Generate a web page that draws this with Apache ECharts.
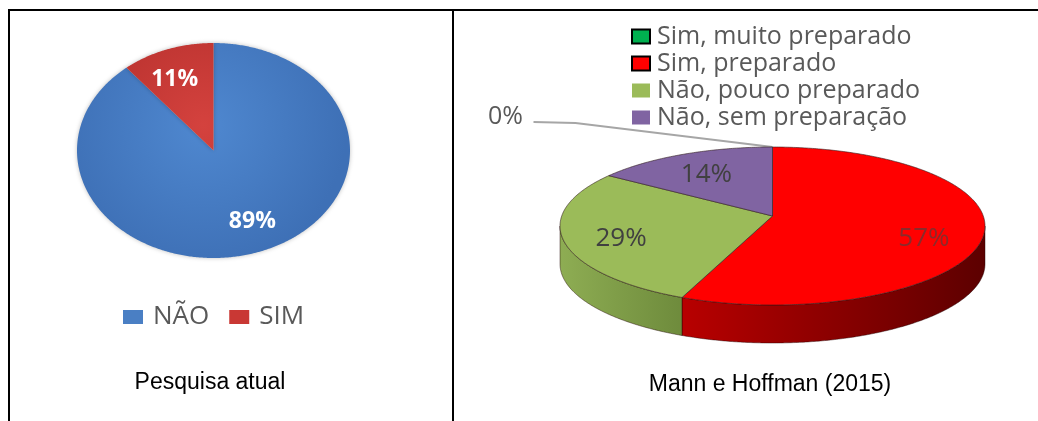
<!DOCTYPE html>
<html>
<head>
<meta charset="utf-8">
<script src="https://cdn.jsdelivr.net/npm/echarts@6/dist/echarts.min.js"></script>
<style>
  html, body { margin: 0; padding: 0; background: #fff; }
  #chart { width: 1038px; height: 421px; }
</style>
</head>
<body>
<div id="chart"></div>
<script>
// left panel: pesquisa atual
const atualNames = ['NÃO', 'SIM'];
const atualValues = [89, 11];

// right panel: Mann e Hoffman (2015)
const mannNames = ['Sim, muito preparado', 'Sim, preparado', 'Não, pouco preparado', 'Não, sem preparação'];
const mannValues = [0, 57, 29, 14];

const captions = ['Pesquisa atual', 'Mann e Hoffman (2015)'];

// styles
const atualColors = ['#4A7FC4', '#C93834'];
const atualInner = ['#4F88D0', '#D4423E'];
const atualOuter = ['#3E70B6', '#B52F2C'];
const mannColors = ['#00B050', '#FF0000', '#9BBB59', '#8064A2'];
const mannSideStops = [
  ['#007A38', '#005A28'],
  ['#B80000', '#5C0000'],
  ['#8EAD53', '#6E8B3C'],
  ['#6A5088', '#4E3A66']
];
const mannLabelColors = ['#595959', '#8A2B2B', '#404040', '#404040'];

const TAU = Math.PI * 2;
const leftGeo = { cx: 213.5, cy: 150.5, rx: 136.5, ry: 107.5, fx: 0.84, fy: 0.7 };
const rightGeo = { cx: 772.5, cy: 226, rx: 212.5, ry: 79, apexDy: -10, depth: 38, fx: 0.73, fy: 0.72 };

function pt(g, t, dy) {
  return [g.cx + g.rx * Math.sin(t), g.cy - g.ry * Math.cos(t) + (dy || 0)];
}

function arc(g, a0, a1, dy) {
  const n = Math.max(2, Math.ceil((a1 - a0) / 0.01));
  const out = [];
  for (let k = 0; k <= n; k++) out.push(pt(g, a0 + (a1 - a0) * k / n, dy));
  return out;
}

function angles(values, i) {
  const total = values.reduce((a, b) => a + b, 0);
  let start = 0;
  for (let k = 0; k < i; k++) start += values[k];
  return [start / total * TAU, (start + values[i]) / total * TAU];
}

function pct(values, i) {
  const total = values.reduce((a, b) => a + b, 0);
  return Math.round(values[i] / total * 100) + '%';
}

function label(text, x, y, fill, size, weight) {
  return {
    type: 'text', z2: 10,
    style: {
      text: text, x: x, y: y, fill: fill,
      fontSize: size, fontFamily: 'Open Sans', fontWeight: weight || 'normal',
      align: 'center', verticalAlign: 'middle',
      textAlign: 'center', textVerticalAlign: 'middle'
    }
  };
}

function atualRender(i) {
  return function () {
    const g = leftGeo;
    const [a0, a1] = angles(atualValues, i);
    const pts = [[g.cx, g.cy]].concat(arc(g, a0, a1, 0));
    const mid = (a0 + a1) / 2;
    return {
      type: 'group',
      children: [
        {
          type: 'polygon', z2: 5,
          shape: { points: pts },
          style: {
            fill: new echarts.graphic.RadialGradient(g.cx - 10, g.cy - 25, g.rx * 1.05, [
              { offset: 0, color: atualInner[i] },
              { offset: 1, color: atualOuter[i] }
            ], true),
            shadowBlur: 4, shadowColor: 'rgba(0,0,0,0.25)'
          }
        },
        label(pct(atualValues, i),
          g.cx + g.rx * g.fx * Math.sin(mid),
          g.cy - g.ry * g.fy * Math.cos(mid),
          '#ffffff', 23, 'bold')
      ]
    };
  };
}

function mannRender(i) {
  return function () {
    const g = rightGeo;
    const [a0, a1] = angles(mannValues, i);
    const mid = (a0 + a1) / 2;
    const children = [];
    if (a1 > a0) {
      // front wall: only the lower half of the ellipse shows
      const s0 = Math.max(a0, Math.PI / 2);
      const s1 = Math.min(a1, Math.PI * 1.5);
      if (s1 > s0) {
        const top = arc(g, s0, s1, 0);
        const bot = arc(g, s0, s1, g.depth).reverse();
        children.push({
          type: 'polygon', z2: 1,
          shape: { points: top.concat(bot) },
          style: {
            fill: new echarts.graphic.LinearGradient(0, 0, 1, 0, [
              { offset: 0, color: mannSideStops[i][0] },
              { offset: 1, color: mannSideStops[i][1] }
            ]),
            stroke: 'rgba(30,0,0,0.55)', lineWidth: 0.8
          }
        });
      }
      children.push({
        type: 'polygon', z2: 5,
        shape: { points: [[g.cx, g.cy + g.apexDy]].concat(arc(g, a0, a1, 0)) },
        style: { fill: mannColors[i], stroke: 'rgba(50,30,30,0.75)', lineWidth: 0.8 }
      });
      children.push(label(pct(mannValues, i),
        g.cx + g.rx * g.fx * Math.sin(mid),
        g.cy - g.ry * g.fy * Math.cos(mid),
        mannLabelColors[i], 26));
    } else {
      // empty slice: label outside with a leader line
      const anchor = pt(g, mid, g.apexDy + 10);
      const lx = anchor[0] - 267, ly = anchor[1] - 30;
      children.push({
        type: 'polyline', z2: 3,
        shape: { points: [[lx + 28, ly + 5], [lx + 70, ly + 6], anchor] },
        style: { stroke: '#A6A6A6', lineWidth: 1.8, fill: null }
      });
      children.push(label(pct(mannValues, i), lx, ly, mannLabelColors[i], 25));
    }
    return { type: 'group', children: children };
  };
}

const series = [];
atualNames.forEach((n, i) => series.push({
  type: 'custom', name: n, coordinateSystem: 'none',
  itemStyle: { color: atualColors[i] },
  renderItem: atualRender(i), data: [[atualValues[i]]], silent: true
}));
mannNames.forEach((n, i) => series.push({
  type: 'custom', name: n, coordinateSystem: 'none',
  itemStyle: { color: mannColors[i] },
  renderItem: mannRender(i), data: [[mannValues[i]]], silent: true
}));

const chart = echarts.init(document.getElementById('chart'), null, { renderer: 'canvas' });
chart.setOption({
  animation: false,
  backgroundColor: '#ffffff',
  legend: [
    {
      data: atualNames.map((n, i) => ({ name: n, icon: 'rect', itemStyle: { color: atualColors[i] } })),
      left: 123, top: 304, padding: 0,
      itemWidth: 20, itemHeight: 14, itemGap: 20,
      selectedMode: false,
      textStyle: { fontSize: 26, fontFamily: 'Open Sans', color: '#595959', padding: [0, 0, 0, 5] }
    },
    {
      orient: 'vertical',
      data: mannNames.map((n, i) => ({
        name: n,
        icon: 'rect',
        itemStyle: i < 2
          ? { color: mannColors[i], borderColor: '#000000', borderWidth: 2 }
          : { color: mannColors[i], borderWidth: 0 }
      })),
      left: 631, top: 24, padding: 0,
      itemWidth: 18, itemHeight: 14, itemGap: 2,
      selectedMode: false,
      textStyle: { fontSize: 25, fontFamily: 'Open Sans', color: '#595959', padding: [0, 0, 0, 2] }
    }
  ],
  graphic: [
    { type: 'line', shape: { x1: 8, y1: 10, x2: 1038, y2: 10 }, style: { stroke: '#000', lineWidth: 2 } },
    { type: 'line', shape: { x1: 9, y1: 10, x2: 9, y2: 421 }, style: { stroke: '#000', lineWidth: 2 } },
    { type: 'line', shape: { x1: 453, y1: 10, x2: 453, y2: 421 }, style: { stroke: '#000', lineWidth: 2 } },
    {
      type: 'text', x: 210, y: 383,
      style: { text: captions[0], fill: '#000', font: '23px "Liberation Sans", Arial', textAlign: 'center', textVerticalAlign: 'middle', align: 'center', verticalAlign: 'middle' }
    },
    {
      type: 'text', x: 770, y: 385,
      style: { text: captions[1], fill: '#000', font: '23px "Liberation Sans", Arial', textAlign: 'center', textVerticalAlign: 'middle', align: 'center', verticalAlign: 'middle' }
    }
  ],
  series: series
});
</script>
</body>
</html>
